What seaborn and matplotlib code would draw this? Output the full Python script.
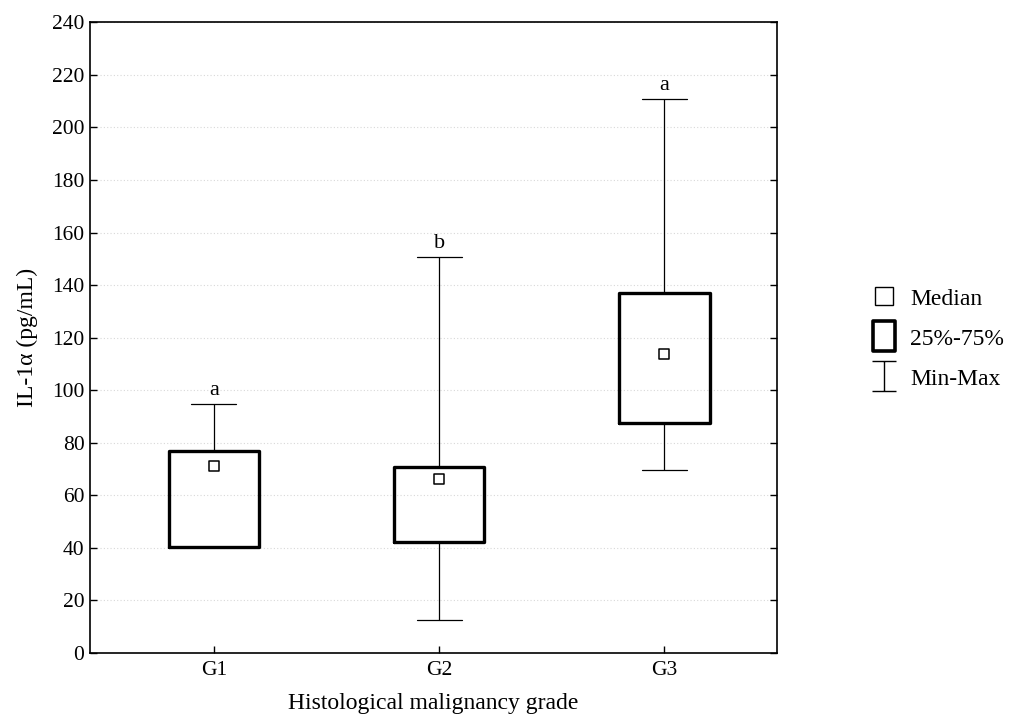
import numpy as np
import pandas as pd
import seaborn as sns
import matplotlib.pyplot as plt
from matplotlib.lines import Line2D
from matplotlib.path import Path

# Values
grades = ["G1", "G2", "G3"]
mins = [40.3, 12.5, 69.5]
q1s = [40.5, 42.2, 87.6]
medians = [71.0, 66.1, 113.8]
q3s = [76.8, 70.8, 137.0]
maxs = [94.8, 150.8, 210.9]
letters = ["a", "b", "a"]

# five points per group -> quartiles land exactly on q1/q3 with linear interpolation
rows = []
for g, a, b, c, d, e in zip(grades, mins, q1s, medians, q3s, maxs):
    for v in (a, b, c, d, e):
        rows.append({"grade": g, "value": v})
df = pd.DataFrame(rows)

sns.set_style("white")
plt.rcParams["font.family"] = ["Liberation Serif", "DejaVu Serif"]
plt.rcParams["text.color"] = "black"
plt.rcParams["xtick.color"] = "black"
plt.rcParams["ytick.color"] = "black"
plt.rcParams["axes.labelcolor"] = "black"

fig = plt.figure(figsize=(10.09, 7.15), dpi=100)
ax = fig.add_axes([0.0892, 0.0867, 0.681, 0.882])

sns.boxplot(data=df, x="grade", y="value", order=grades, whis=(0, 100),
            width=0.4, fill=False, color="black", linecolor="black",
            boxprops={"linewidth": 2.4},
            whiskerprops={"linewidth": 0.9},
            capprops={"linewidth": 0.9},
            medianprops={"visible": False},
            showfliers=False, ax=ax)

# median markers
sns.scatterplot(x=grades, y=medians, marker="s", s=55, facecolor="white",
                edgecolor="black", linewidth=1.1, zorder=5, ax=ax)

for i, (m, t) in enumerate(zip(maxs, letters)):
    ax.annotate(t, (i, m), xytext=(0, 3), textcoords="offset points",
                ha="center", va="bottom", fontsize=16)

ax.set_xlim(-0.55, 2.5)
ax.set_ylim(0, 240)
ax.set_yticks(np.arange(0, 241, 20))
ax.yaxis.grid(True, linestyle=(0, (1, 2)), color="#d8d8d8", linewidth=0.8)
ax.set_axisbelow(True)
for s in ax.spines.values():
    s.set_visible(True)
    s.set_color("black")
    s.set_linewidth(1.2)
ax.tick_params(axis="y", direction="in", length=5, left=True, right=True, width=1,
               labelsize=15.5, pad=4)
ax.tick_params(axis="x", direction="in", length=5, bottom=True, width=1,
               labelsize=15.5, pad=6)
ax.set_xlabel("Histological malignancy grade", fontsize=17, labelpad=9)
ax.set_ylabel("IL-1α (pg/mL)", fontsize=17, labelpad=10)

# legend
ibeam = Path([(-0.8, 1), (0.8, 1), (0, 1), (0, -1), (-0.8, -1), (0.8, -1)],
             [Path.MOVETO, Path.LINETO, Path.MOVETO, Path.LINETO, Path.MOVETO, Path.LINETO])
tallbox = Path([(-0.75, -1), (0.75, -1), (0.75, 1), (-0.75, 1), (-0.75, -1)],
               [Path.MOVETO, Path.LINETO, Path.LINETO, Path.LINETO, Path.CLOSEPOLY])
handles = [
    Line2D([], [], linestyle="none", marker="s", markersize=12.5, markerfacecolor="white",
           markeredgecolor="black", markeredgewidth=1.0, label="Median"),
    Line2D([], [], linestyle="none", marker=tallbox, markersize=21, markerfacecolor="white",
           markeredgecolor="black", markeredgewidth=2.6, label="25%-75%"),
    Line2D([], [], linestyle="none", marker=ibeam, markersize=21, markerfacecolor="none",
           markeredgecolor="black", markeredgewidth=1.0, label="Min-Max"),
]
fig.legend(handles=handles, loc="center left", bbox_to_anchor=(0.862, 0.526), frameon=False,
           fontsize=17, handlelength=1.2, handletextpad=0.5, labelspacing=0.78,
           borderpad=0.0, borderaxespad=0.0)

fig.savefig("out.png", dpi=100)
